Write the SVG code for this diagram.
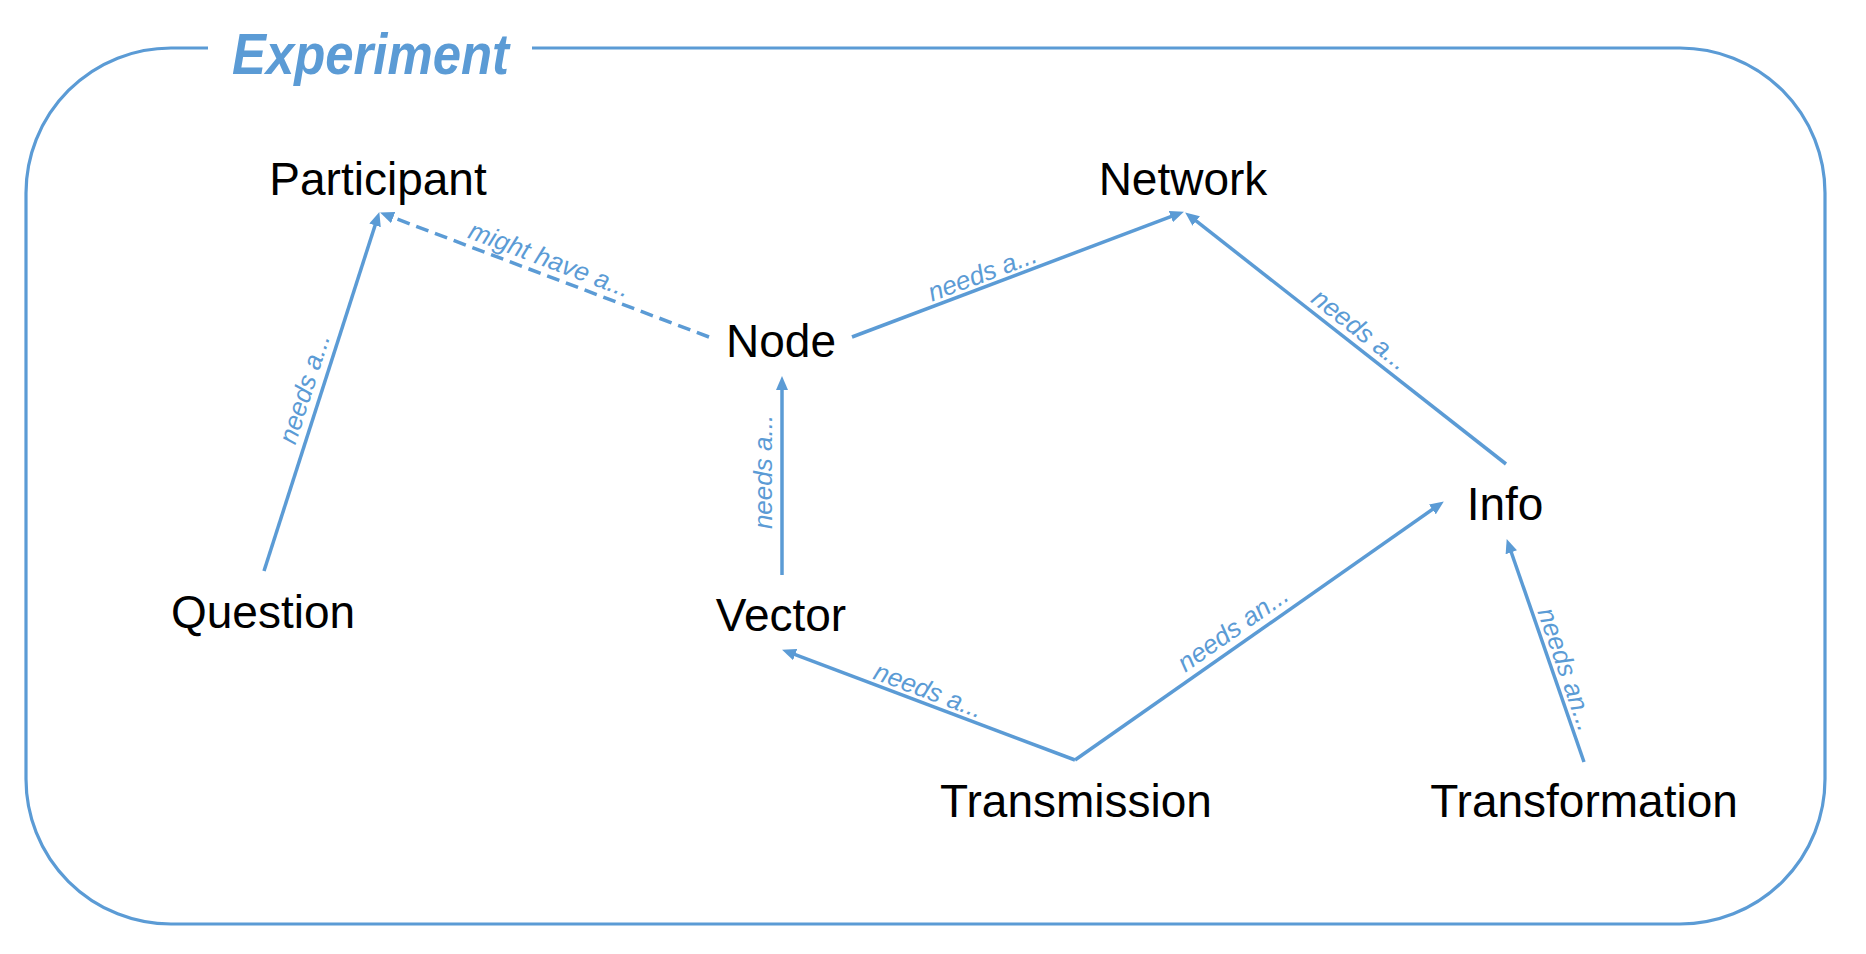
<svg xmlns="http://www.w3.org/2000/svg" width="1866" height="954" viewBox="0 0 1866 954">
  <style>
    .frame { fill: none; stroke: #5B9BD5; stroke-width: 3.2; }
    .title { font-family: "Liberation Sans", Arial, sans-serif; font-style: italic; font-weight: bold; font-size: 58px; fill: #5B9BD5; }
    .node { font-family: "Liberation Sans", Arial, sans-serif; font-size: 46px; fill: #000; text-anchor: middle; }
    .edge { fill: none; stroke: #5B9BD5; stroke-width: 3.5; marker-end: url(#arrow); }
    .dashed { stroke-dasharray: 13 7; }
    .lbl { font-family: "Liberation Sans", Arial, sans-serif; font-style: italic; font-size: 26px; fill: #5B9BD5; text-anchor: middle; }
  </style>
  <defs>
    <marker id="arrow" viewBox="0 0 14 12" refX="7" refY="6" markerWidth="14" markerHeight="12" markerUnits="userSpaceOnUse" orient="auto">
      <path d="M0,0 L14,6 L0,12 Z" fill="#5B9BD5"/>
    </marker>
  </defs>
  <rect width="1866" height="954" fill="#fff"/>

  <g id="frame">
    <path class="frame" d="M208,48 H171 A145,145 0 0 0 26,193 V779 A145,145 0 0 0 171,924 H1680 A145,145 0 0 0 1825,779 V193 A145,145 0 0 0 1680,48 H532"/>
    <text class="title" x="232" y="74" textLength="277" lengthAdjust="spacingAndGlyphs">Experiment</text>
  </g>

  <g id="connectors">
    <path class="edge" d="M264,571 L377.2,218.7"/>
    <path class="edge dashed" d="M709,337 L386.6,215.1"/>
    <path class="edge" d="M852,337 L1177.4,214.1"/>
    <path class="edge" d="M1506,464 L1190.7,216.7"/>
    <path class="edge" d="M782,575 L782,383"/>
    <path class="edge" d="M1075,760 L788.6,652.1"/>
    <path class="edge" d="M1075,760 L1438.1,505.4"/>
    <path class="edge" d="M1584,762 L1509,545.7"/>

    <g transform="translate(306,389) rotate(-72.2)"><text class="lbl" x="0" y="7">needs a...</text></g>
    <g transform="translate(549,261) rotate(20.7)"><text class="lbl" x="0" y="7">might have a...</text></g>
    <g transform="translate(983,275) rotate(-20.7)"><text class="lbl" x="0" y="7">needs a...</text></g>
    <g transform="translate(1359,331) rotate(38.1)"><text class="lbl" x="0" y="7">needs a...</text></g>
    <g transform="translate(765,472) rotate(-90)"><text class="lbl" x="0" y="7">needs a...</text></g>
    <g transform="translate(928,692) rotate(20.6)"><text class="lbl" x="0" y="7">needs a...</text></g>
    <g transform="translate(1234,630) rotate(-35)"><text class="lbl" x="0" y="7">needs an...</text></g>
    <g transform="translate(1565,670) rotate(70.9)"><text class="lbl" x="0" y="7">needs an...</text></g>
  </g>

  <g id="node-participant"><text class="node" x="378" y="195">Participant</text></g>
  <g id="node-network"><text class="node" x="1183" y="195">Network</text></g>
  <g id="node-node"><text class="node" x="781" y="357">Node</text></g>
  <g id="node-question"><text class="node" x="263" y="628">Question</text></g>
  <g id="node-vector"><text class="node" x="781" y="631">Vector</text></g>
  <g id="node-info"><text class="node" x="1505" y="520">Info</text></g>
  <g id="node-transmission"><text class="node" x="1076" y="817">Transmission</text></g>
  <g id="node-transformation"><text class="node" x="1584" y="817">Transformation</text></g>
</svg>
